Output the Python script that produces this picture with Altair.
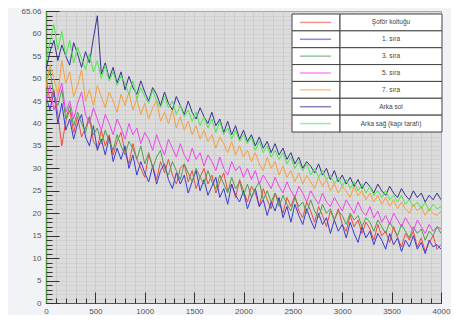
import altair as alt
import pandas as pd

names = ["Şoför koltuğu", "1. sıra", "3. sıra", "5. sıra", "7. sıra", "Arka sol", "Arka sağ (kapı tarafı)"]
colors = ["#f04a3c", "#3a3ad8", "#4e9e4e", "#ee44ee", "#f5a03c", "#33338f", "#4ce64c"]
x_max = 4000

sofor = [50, 45, 47.5, 42, 35, 40.5, 43, 38, 41.5, 37,
         39, 41.5, 36, 34.5, 38.5, 35, 37.5, 33, 36, 38,
         33.5, 31, 35.5, 32, 30, 28, 33, 30.5, 27.5, 31.5,
         29, 32, 28.5, 26.5, 30, 31, 27, 29.5, 25.5, 28,
         30, 26.5, 28.5, 24.5, 27, 29, 25, 26.5, 23.5, 27.5,
         25, 22.5, 26, 24.5, 21.5, 25.5, 23, 21, 24.5, 22.5,
         20, 23.5, 21.5, 24, 20.5, 19, 22.5, 20.5, 18, 21.5,
         19.5, 17, 20.5, 18.5, 21, 17.5, 16, 19.5, 17, 18.5,
         15.5, 18, 16.5, 14, 17.5, 15, 16, 13.5, 17, 14.5,
         12.5, 15.5, 14, 16, 12.5, 14.5, 11.5, 13.5, 15, 12, 13]
sira1 = [46, 43, 47, 40, 44.5, 38.5, 41, 36.5, 40, 42,
         37, 35, 39.5, 34, 36.5, 33, 37, 31.5, 34.5, 32,
         35, 30, 33, 28.5, 31.5, 29, 27, 30.5, 26.5, 29.5,
         31, 27.5, 25.5, 29, 26.5, 28.5, 24.5, 27, 29.5, 25,
         27.5, 24, 26, 28, 23.5, 25.5, 22, 26.5, 24, 22.5,
         25, 21, 23.5, 25.5, 21.5, 23, 19.5, 22.5, 20.5, 23.5,
         19, 21.5, 18, 22, 19.5, 17.5, 21, 18.5, 16.5, 20,
         17.5, 19, 15.5, 18.5, 16, 17.5, 14.5, 18, 15.5, 13.5,
         17, 14.5, 16, 13, 15.5, 14, 12, 15.5, 13, 14.5,
         11.5, 14, 12.5, 15, 12, 13.5, 11, 14, 12.5, 13, 12]
sira3 = [49, 52, 46, 44, 47.5, 41, 44, 39.5, 42.5, 40,
         38, 41.5, 37.5, 39, 35.5, 38.5, 36, 34, 37.5, 35,
         33, 36, 34.5, 32, 35, 31, 33.5, 30, 32.5, 34,
         30, 28.5, 31.5, 29.5, 27.5, 31, 29, 27, 30, 28,
         26.5, 29.5, 27, 25.5, 28.5, 26.5, 24.5, 28, 25.5, 27,
         24, 26.5, 23.5, 25.5, 27, 23, 25, 22.5, 24.5, 21.5,
         24, 22, 20.5, 23.5, 21.5, 22.5, 20, 23, 20.5, 19,
         22, 20, 21, 18.5, 20.5, 19.5, 17.5, 20, 18.5, 19.5,
         17, 19, 18, 16, 18.5, 17, 15.5, 18, 16.5, 15,
         17.5, 16, 14.5, 17, 15.5, 16.5, 14, 16, 15, 17, 15.5]
sira5 = [45, 48.5, 43, 46, 49, 42.5, 45, 41, 44.5, 47,
         42, 40, 43.5, 41, 38.5, 42, 40, 37.5, 41, 39,
         36.5, 40, 37.5, 39, 35.5, 38, 36.5, 34, 37.5, 35,
         33, 36.5, 34.5, 32.5, 35.5, 33, 31.5, 34.5, 32, 33.5,
         30.5, 33, 31.5, 29.5, 32.5, 30, 28.5, 31.5, 29.5, 30.5,
         28, 30, 27.5, 29.5, 26.5, 28.5, 27, 25.5, 28, 26,
         24.5, 27, 25, 23.5, 26, 24.5, 22.5, 25, 23.5, 22,
         24.5, 22.5, 21.5, 23.5, 22, 20.5, 23, 21.5, 20, 22.5,
         20.5, 19.5, 21.5, 19, 20.5, 18, 19.5, 17.5, 20, 18.5,
         17, 19, 17.5, 16, 18.5, 17, 15.5, 17.5, 16, 17, 16.5]
sira7 = [48, 53, 50, 46.5, 54, 49, 51.5, 46, 48.5, 52,
         45, 47.5, 44, 48.5, 46, 43.5, 47, 45, 42.5, 46.5,
         44, 47, 43, 45.5, 42, 44.5, 41, 43.5, 45, 40.5,
         42.5, 40, 43, 39, 41.5, 38.5, 40.5, 37.5, 39.5, 36.5,
         38.5, 36, 37.5, 34.5, 37, 35.5, 33.5, 36, 33, 35,
         32.5, 34, 31.5, 33.5, 31, 29.5, 32.5, 30, 31.5, 28.5,
         30.5, 28, 29.5, 27, 29, 26.5, 28.5, 27, 25.5, 28,
         26, 27.5, 25, 26.5, 24.5, 26, 25, 23.5, 26, 24,
         25, 23, 24.5, 22.5, 24, 22, 23.5, 21.5, 23, 21,
         22.5, 21, 20, 22, 20.5, 21.5, 19.5, 21, 20, 19.5, 20.5]
arka_sol = [52, 56, 58.5, 54, 57.5, 55, 53, 58, 55.5, 52.5,
            56, 53.5, 59, 64, 51, 53.5, 50, 52.5, 49, 51.5,
            47.5, 50.5, 48, 46.5, 49.5, 47, 45, 48, 46.5, 44,
            47, 44.5, 43, 46, 44, 42, 45, 42.5, 41, 43.5,
            41.5, 40, 42.5, 39.5, 41, 38, 40.5, 37.5, 39.5, 36.5,
            38.5, 36, 37.5, 35, 37, 34.5, 36, 33.5, 35.5, 33,
            34.5, 32, 33.5, 31, 32.5, 30, 31.5, 30.5, 29, 31,
            28.5, 30, 27.5, 29.5, 27, 28.5, 26.5, 28, 26, 27.5,
            25.5, 27, 26, 24.5, 26.5, 25, 24, 26, 24.5, 23.5,
            25.5, 24, 23, 25, 23.5, 24.5, 22.5, 24, 23, 24.5, 23]
arka_sag = [54, 58, 62, 56.5, 60.5, 55, 58.5, 53.5, 57, 54.5,
            52, 55.5, 51.5, 54, 50, 53, 49.5, 51.5, 48.5, 50.5,
            49, 46.5, 49.5, 45.5, 48, 46, 44.5, 47.5, 45, 43.5,
            46, 43.5, 45, 42, 44, 41.5, 43, 40.5, 42.5, 39.5,
            41.5, 39, 41, 38, 40.5, 37.5, 39, 36.5, 38.5, 36,
            37.5, 35.5, 37, 34, 36, 33.5, 35, 32.5, 34, 32,
            33.5, 31, 32.5, 30, 31.5, 29.5, 31, 28.5, 30, 28,
            29.5, 27.5, 28.5, 26.5, 28, 26, 27.5, 25.5, 27, 25,
            26.5, 24.5, 26, 24, 25, 23.5, 25, 23, 24, 22.5,
            24, 22, 23, 21.5, 22.5, 21, 22.5, 20.5, 22, 21, 21.5]

x_minor = list(range(0, 4001, 100))
x_major = list(range(0, 4001, 500))
y_minor = list(range(0, 66))
y_major = list(range(0, 61, 5)) + [65.06]

series_values = [sofor, sira1, sira3, sira5, sira7, arka_sol, arka_sag]
rows = []
for name, vals in zip(names, series_values):
    n = len(vals)
    for i, v in enumerate(vals):
        rows.append({"series": name, "order": i, "x": x_max * i / (n - 1), "y": v})
df = pd.DataFrame(rows)
dummy = pd.DataFrame({"x": [0], "y": [0]})
leg_df = pd.DataFrame({"name": names})

FONT = "Liberation Sans"
x_scale = alt.Scale(domain=[0, 4000], nice=False, zero=False)
y_scale = alt.Scale(domain=[0, 65.06], nice=False, zero=False)
color_scale = alt.Scale(domain=names, range=colors)

lines = alt.Chart(df).mark_line(strokeWidth=1, clip=True).encode(
    x=alt.X("x:Q", scale=x_scale, axis=alt.Axis(orient="bottom", values=x_minor, grid=True, gridColor="#c8c8c8",
                                              gridWidth=0.8, ticks=False, labels=False, domain=True,
                                              domainColor="#555", title=None)),
    y=alt.Y("y:Q", scale=y_scale, axis=alt.Axis(orient="left", values=y_minor, grid=True, gridColor="#cbcbcb",
                                              gridWidth=0.7, ticks=False, labels=False, domain=True,
                                              domainColor="#5b9b45", domainWidth=1.5, title=None)),
    color=alt.Color("series:N", scale=color_scale, legend=None),
    order="order:Q",
)

minor = alt.Chart(dummy).mark_point(opacity=0).encode(
    x=alt.X("x:Q", scale=x_scale, axis=alt.Axis(orient="bottom", values=x_minor, offset=-5, tickSize=5,
                                              labels=False, domain=False, grid=False, tickColor="#333", title=None)),
    y=alt.Y("y:Q", scale=y_scale, axis=alt.Axis(orient="left", values=y_minor, offset=-6, tickSize=6,
                                              labels=False, domain=False, grid=False, tickColor="#333", title=None)),
)

major = alt.Chart(dummy).mark_point(opacity=0).encode(
    x=alt.X("x:Q", scale=x_scale, axis=alt.Axis(orient="bottom", values=x_major, offset=-11, tickSize=11,
                                              labelPadding=4, labelFontSize=8, labelColor="#555", labelFont=FONT,
                                              labelFlush=False, labelOverlap=False, format="d",
                                              domain=False, grid=False, tickColor="#333", title=None)),
    y=alt.Y("y:Q", scale=y_scale, axis=alt.Axis(orient="left", values=y_major, offset=-13, tickSize=13,
                                              labelPadding=5, labelFontSize=8, labelColor="#555", labelFont=FONT,
                                              labelFlush=False, labelOverlap=False,
                                              labelExpr="datum.value > 65 ? '65.06' : format(datum.value, 'd')",
                                              domain=False, grid=False, tickColor="#333", title=None)),
)

data_layer = alt.layer(lines, minor, major).resolve_axis(x="independent", y="independent")

leg_scale = alt.Scale(type="band", domain=names, range=[3, 121], paddingInner=0, paddingOuter=0)
leg_base = alt.Chart(leg_df)
cell_left = leg_base.mark_rect(fill="white", stroke="#444", strokeWidth=1).encode(
    x=alt.value(246), x2=alt.value(294),
    y=alt.Y("name:N", scale=leg_scale, axis=None),
)
cell_right = leg_base.mark_rect(fill="white", stroke="#444", strokeWidth=1).encode(
    x=alt.value(294), x2=alt.value(396),
    y=alt.Y("name:N", scale=leg_scale, axis=None),
)
sample = leg_base.mark_rule(strokeWidth=1.5, opacity=0.6).encode(
    x=alt.value(254), x2=alt.value(285),
    y=alt.Y("name:N", scale=leg_scale, axis=None, bandPosition=0.5),
    color=alt.Color("name:N", scale=color_scale, legend=None),
)
labels = leg_base.mark_text(fontSize=6.5, font=FONT, color="#444", align="center", baseline="middle").encode(
    x=alt.value(345),
    y=alt.Y("name:N", scale=leg_scale, axis=None, bandPosition=0.5),
    text="name:N",
)
legend_layer = alt.layer(cell_left, cell_right, sample, labels)

chart = alt.layer(data_layer, legend_layer).resolve_scale(y="independent").properties(
    width=395, height=292,
    padding={"left": 38, "top": 3, "right": 10, "bottom": 12},
    autosize=alt.AutoSizeParams(type="none"),
    background="#f1f3f6",
).configure_view(fill="#dcdcdc", stroke="#555", strokeWidth=1)

chart.save("out.html", embed_options={"renderer": "svg", "actions": False})
